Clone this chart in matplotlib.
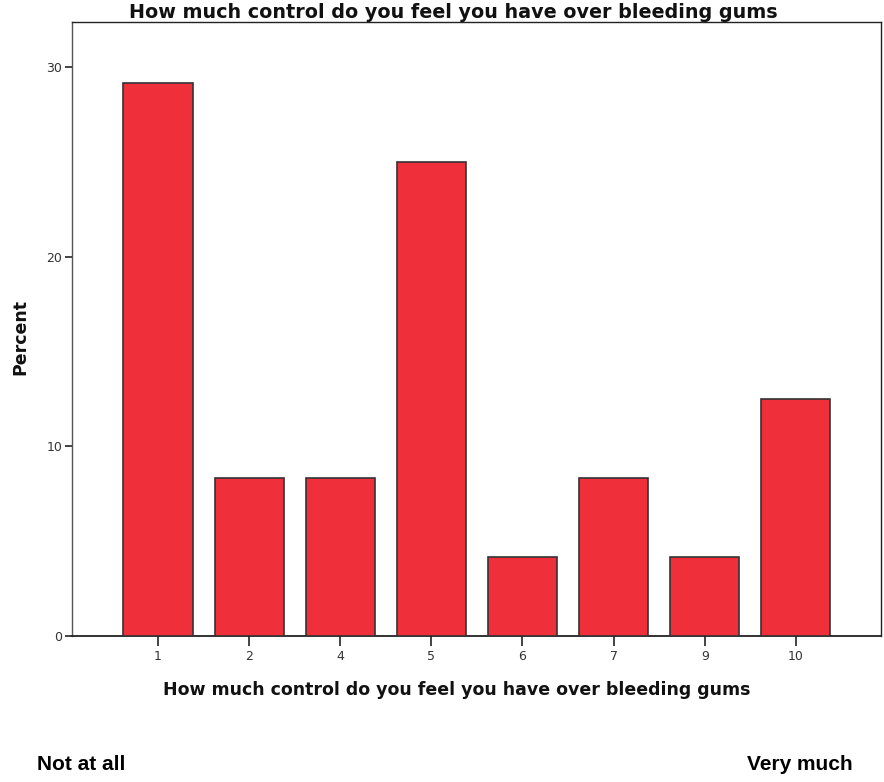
import matplotlib
matplotlib.use('Agg')
import matplotlib.pyplot as plt
import numpy as np

# 数据：各选项所占百分比
categories = ['1', '2', '4', '5', '6', '7', '9', '10']
percent = [29.17, 8.33, 8.33, 25.0, 4.17, 8.33, 4.17, 12.5]
y_ticks = [0, 10, 20, 30]

title = 'How much control do you feel you have over bleeding gums'
narrow = ['Liberation Sans Narrow', 'DejaVu Sans']

fig = plt.figure(figsize=(8.84, 7.82), dpi=100)
ax = fig.add_axes([0.0814, 0.1867, 0.9152, 0.7852])

x = np.arange(len(categories))
ax.bar(x, percent, width=0.76, color='#EF303A', edgecolor='#333333', linewidth=1.2, zorder=3)

ax.set_xlim(-0.945, 7.935)
ax.set_ylim(0, 32.4)
ax.set_xticks(x)
ax.set_xticklabels(categories, fontsize=9, color='#333333', family=narrow)
ax.set_yticks(y_ticks)
ax.set_yticklabels([str(t) for t in y_ticks], fontsize=9, color='#333333', family=narrow)
ax.tick_params(axis='x', length=7, width=1.2, pad=3, color='#222222')
ax.tick_params(axis='y', length=5, width=1.2, pad=2, color='#222222')
for s in ax.spines.values():
    s.set_color('#222222')
    s.set_linewidth(1.0)
ax.spines['left'].set_color('#555555')
ax.spines['bottom'].set_linewidth(1.3)

# 标题、坐标轴标题
fig.text(453 / 884, 1 - 13 / 782, title, ha='center', va='center',
         fontsize=13.8, fontweight='bold', family=narrow, color='#111111')
fig.text(457 / 884, 1 - 690 / 782, title, ha='center', va='center',
         fontsize=12.5, fontweight='bold', family=narrow, color='#111111')
fig.text(20 / 884, 1 - 337 / 782, 'Percent', ha='center', va='center', rotation=90,
         fontsize=12.5, fontweight='bold', family=narrow, color='#111111')

# 量表两端说明
fig.text(37 / 884, 1 - 765 / 782, 'Not at all', ha='left', va='center',
         fontsize=15, fontweight='bold', family=['Liberation Sans', 'DejaVu Sans'])
fig.text(853 / 884, 1 - 765 / 782, 'Very much', ha='right', va='center',
         fontsize=15, fontweight='bold', family=['Liberation Sans', 'DejaVu Sans'])

fig.savefig('out.png', dpi=100)
